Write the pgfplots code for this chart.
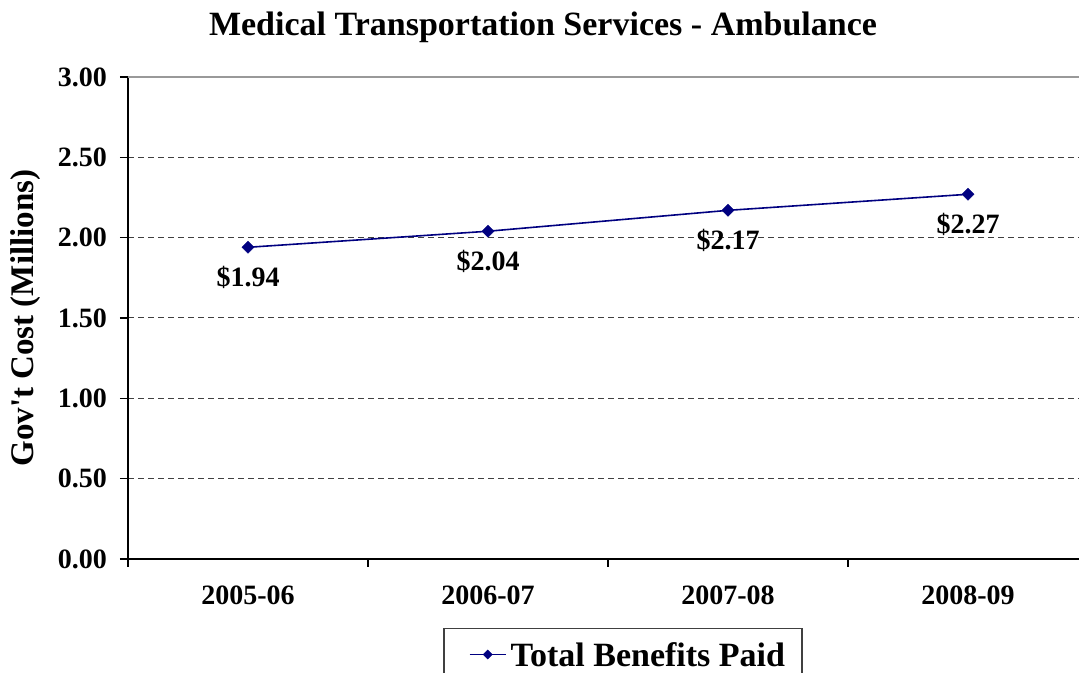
\documentclass[border=0pt]{standalone}
\usepackage{pgfplots}
\pgfplotsset{compat=1.18}
\usepackage{fontspec}
\setmainfont{Liberation Serif}
\definecolor{navyline}{HTML}{000080}
\definecolor{gridgray}{HTML}{404040}
\begin{document}
\begin{tikzpicture}
\useasboundingbox (0,0) rectangle (539.5pt,336.5pt);
\clip (0,0) rectangle (539.5pt,336.5pt);
\fill[white] (0,0) rectangle (539.5pt,336.5pt);
\node[font=\fontsize{17}{19}\selectfont\bfseries] at (271.5pt,323pt) {Medical Transportation Services - Ambulance};
\begin{axis}[
  at={(64pt,57pt)}, anchor=south west,
  scale only axis, width=480pt, height=241pt,
  xmin=-0.5, xmax=3.5, ymin=0, ymax=3,
  axis x line*=bottom, axis y line*=left,
  axis line style={black, line width=0.6pt},
  xtick={-0.5,0.5,1.5,2.5,3.5}, xticklabels={},
  extra x ticks={0,1,2,3},
  extra x tick labels={2005-06,2006-07,2007-08,2008-09},
  extra x tick style={major tick length=0pt},
  ytick={0,0.5,...,3},
  y tick label style={/pgf/number format/fixed, /pgf/number format/fixed zerofill, /pgf/number format/precision=2, xshift=-3pt},
  /pgf/number format/assume math mode=true,
  tick align=outside, major tick length=4pt,
  tick style={black, line width=0.6pt},
  ymajorgrids, grid style={gridgray, dash pattern=on 3pt off 2pt, line width=0.5pt},
  ticklabel style={font=\fontsize{14}{16}\selectfont\bfseries},
  x tick label style={yshift=-10pt},
  ylabel={Gov\textquotesingle t Cost (Millions)},
  ylabel style={font=\fontsize{16.5}{18}\selectfont\bfseries, at={(axis description cs:-0.107,0.5)}, anchor=center},
  legend style={at={(axis description cs:0.5156,-0.143)}, anchor=north,
    draw=black!75, line width=0.6pt, font=\fontsize{17}{19}\selectfont\bfseries,
    inner xsep=6.5pt, inner ysep=5pt, legend cell align=left,
    nodes={text depth=0pt}},
  legend image code/.code={
    \path (0pt,0pt);
    \draw[mark repeat=2, mark phase=2, #1, mark size=1.6pt] plot coordinates {(6pt,0pt) (15pt,0pt) (24pt,0pt)};
  },
  clip=false,
]
\addplot[navyline, line width=0.8pt, mark=square*, mark size=2.1pt,
  mark options={fill=navyline, draw=navyline, line width=0.3pt, rotate=45},
  nodes near coords={\$\pgfmathprintnumber[fixed,fixed zerofill,precision=2]{\pgfplotspointmeta}},
  point meta=explicit,
  every node near coord/.append style={anchor=north, yshift=-6pt, font=\fontsize{14}{16}\selectfont\bfseries, text=black, rotate=0}]
  coordinates {(0,1.94) [1.94] (1,2.04) [2.04] (2,2.17) [2.17] (3,2.27) [2.27]};
\addlegendentry{Total Benefits Paid}
\draw[gray!80, line width=0.6pt] (rel axis cs:0,1) -- (rel axis cs:1,1);
\end{axis}
\end{tikzpicture}
\end{document}
